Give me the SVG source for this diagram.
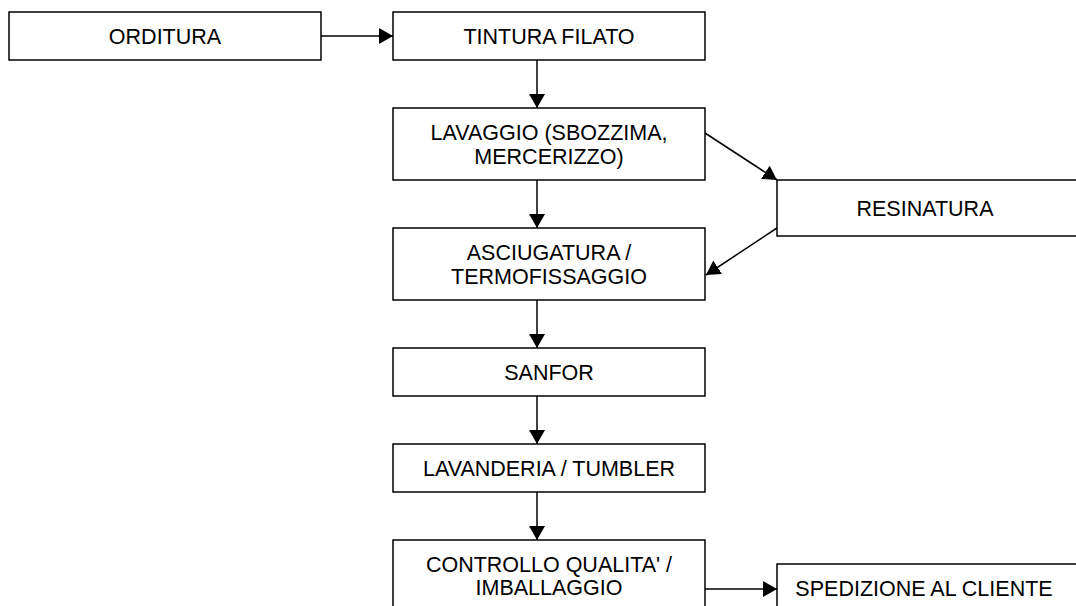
<svg xmlns="http://www.w3.org/2000/svg" width="1076" height="606" viewBox="0 0 1076 606">
<style>
.box{fill:#fff;stroke:#000;stroke-width:1.5}
.t{font-family:"Liberation Sans",Arial,sans-serif;font-size:21.5px;fill:#000;text-anchor:middle}
.c{stroke:#000;stroke-width:1.5;fill:none;marker-end:url(#ah)}
</style>
<defs>
<marker id="ah" markerUnits="userSpaceOnUse" viewBox="0 0 14 16" refX="14" refY="8" markerWidth="14" markerHeight="16" orient="auto">
<path d="M0,0 L14,8 L0,16 Z" fill="#000"/>
</marker>
</defs>
<rect width="1076" height="606" fill="#fff"/>
<g id="connectors">
<line class="c" x1="321" y1="36" x2="393" y2="36"/>
<line class="c" x1="537" y1="60" x2="537" y2="108"/>
<line class="c" x1="537" y1="180" x2="537" y2="228"/>
<line class="c" x1="537" y1="300" x2="537" y2="348"/>
<line class="c" x1="537" y1="396" x2="537" y2="444"/>
<line class="c" x1="537" y1="492" x2="537" y2="540"/>
<line class="c" x1="705" y1="133" x2="777" y2="180"/>
<line class="c" x1="777" y1="228" x2="706" y2="275"/>
<line class="c" x1="705" y1="589" x2="777" y2="589"/>
</g>
<g id="orditura">
<rect class="box" x="9" y="12" width="312" height="48"/>
<text class="t" x="165" y="43.5">ORDITURA</text>
</g>
<g id="tintura">
<rect class="box" x="393" y="12" width="312" height="48"/>
<text class="t" x="549" y="43.5">TINTURA FILATO</text>
</g>
<g id="lavaggio">
<rect class="box" x="393" y="108" width="312" height="72"/>
<text class="t" x="549" y="140">LAVAGGIO (SBOZZIMA,</text>
<text class="t" x="549" y="163.5">MERCERIZZO)</text>
</g>
<g id="resinatura">
<rect class="box" x="777" y="180" width="310" height="56"/>
<text class="t" x="925" y="215.5">RESINATURA</text>
</g>
<g id="asciugatura">
<rect class="box" x="393" y="228" width="312" height="72"/>
<text class="t" x="549" y="260">ASCIUGATURA /</text>
<text class="t" x="549" y="283.5">TERMOFISSAGGIO</text>
</g>
<g id="sanfor">
<rect class="box" x="393" y="348" width="312" height="48"/>
<text class="t" x="549" y="379.5">SANFOR</text>
</g>
<g id="lavanderia">
<rect class="box" x="393" y="444" width="312" height="48"/>
<text class="t" x="549" y="475.5">LAVANDERIA / TUMBLER</text>
</g>
<g id="controllo">
<rect class="box" x="393" y="540" width="312" height="72"/>
<text class="t" x="549" y="571.5">CONTROLLO QUALITA' /</text>
<text class="t" x="549" y="595">IMBALLAGGIO</text>
</g>
<g id="spedizione">
<rect class="box" x="777" y="564" width="310" height="48"/>
<text class="t" x="924" y="595.5">SPEDIZIONE AL CLIENTE</text>
</g>
</svg>
